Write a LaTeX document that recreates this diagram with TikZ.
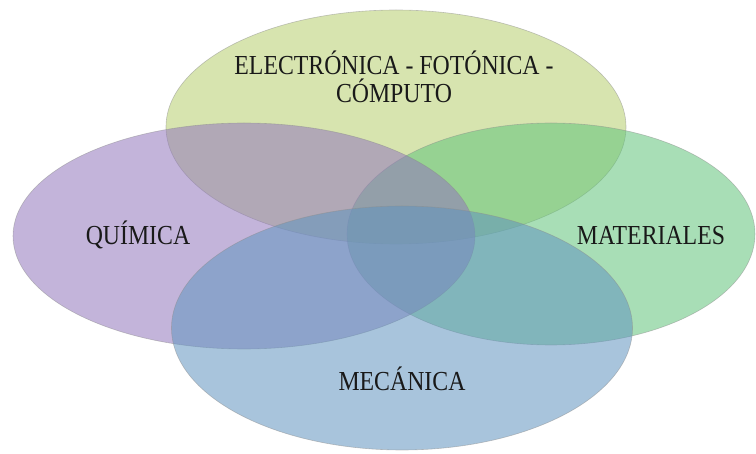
\documentclass[tikz,border=0pt]{standalone}
\usepackage{fontspec}
\setmainfont{Liberation Serif}[FakeStretch=0.865]
\usetikzlibrary{shapes.geometric}
\definecolor{olivefill}{RGB}{182,206,110}
\definecolor{purplefill}{RGB}{146,119,188}
\definecolor{greenfill}{RGB}{97,195,122}
\definecolor{bluefill}{RGB}{97,148,191}
\tikzset{
    setshape/.style={ellipse, inner sep=0pt, fill=#1, fill opacity=0.55,
        draw=black!45, draw opacity=0.5, line width=0.6pt},
    setlabel/.style={inner sep=0pt, anchor=base, text=black!90,
        font=\fontsize{27.5}{28}\selectfont},
}
\begin{document}
\begin{tikzpicture}[x=1pt, y=-1pt]
\useasboundingbox (0,0) rectangle (756,454);
% draw the four sets
\foreach \name/\cx/\cy/\w/\h/\col in {%
    elec/396/127/460/234/olivefill,
    mate/551/234/408/222/greenfill,
    quim/244/236/462/226/purplefill,
    meca/402/328/461/244/bluefill} {%
        \node[setshape=\col, minimum width=\w pt, minimum height=\h pt] (\name) at (\cx,\cy) {};}
% draw the labels (base of a two-line label is its last line)
\node[setlabel, align=center] (elec-text) at (394,103) {ELECTRÓNICA - FOTÓNICA -\\CÓMPUTO};
\node[setlabel] (quim-text) at (138,245) {QUÍMICA};
\node[setlabel] (mate-text) at (651,245) {MATERIALES};
\node[setlabel] (meca-text) at (402,391) {MECÁNICA};
\end{tikzpicture}
\end{document}
